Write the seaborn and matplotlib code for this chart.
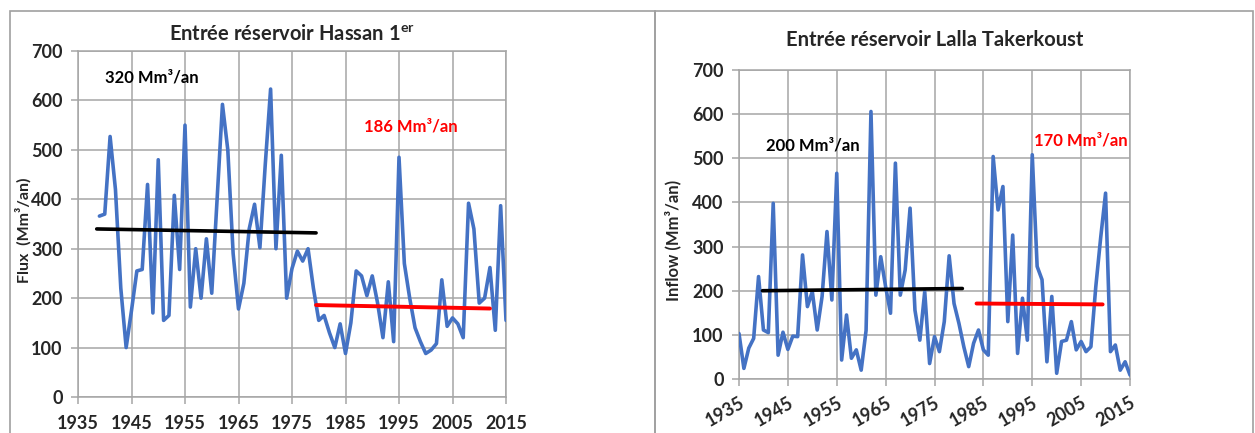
import numpy as np
import pandas as pd
import matplotlib
matplotlib.use("Agg")
import matplotlib.pyplot as plt
import seaborn as sns
from matplotlib.patches import Rectangle

# ---------------- data ----------------
hassan_years = list(range(1939, 2016))
hassan_flux = [366, 370, 527, 420, 220, 100, 175, 255, 258, 430,
               170, 480, 155, 165, 408, 258, 550, 182, 300, 200,
               320, 210, 400, 592, 500, 290, 178, 230, 340, 390,
               302, 470, 623, 300, 489, 200, 260, 295, 275, 300,
               220, 155, 165, 130, 100, 148, 88, 150, 255, 245,
               205, 245, 190, 120, 233, 112, 485, 270, 200, 140,
               112, 88, 95, 108, 237, 143, 160, 148, 120, 392,
               340, 190, 200, 262, 135, 387, 155]
hassan_trend1_x = [1938.5, 1979.5]
hassan_trend1_y = [340, 332]
hassan_trend2_x = [1979.5, 2012.0]
hassan_trend2_y = [186, 179]

lalla_years = list(range(1935, 2016))
lalla_flux = [103, 24, 70, 92, 232, 111, 105, 398, 54, 106,
              67, 97, 96, 281, 164, 198, 111, 187, 334, 179,
              466, 43, 145, 47, 66, 20, 110, 606, 190, 277,
              209, 149, 489, 190, 247, 387, 156, 88, 198, 35,
              96, 62, 130, 279, 171, 126, 73, 28, 81, 111,
              66, 54, 504, 383, 436, 130, 326, 58, 183, 88,
              508, 255, 225, 39, 187, 13, 85, 88, 130, 66,
              85, 62, 73, 209, 320, 421, 62, 77, 20, 39, 9]
lalla_trend1_x = [1939.8, 1980.7]
lalla_trend1_y = [200, 205]
lalla_trend2_x = [1983.6, 2009.4]
lalla_trend2_y = [171, 169]

x_ticks = list(range(1935, 2016, 10))
y_ticks = list(range(0, 701, 100))

# ---------------- style ----------------
sns.set_theme(style="white")
plt.rcParams['font.family'] = ['Lato', 'DejaVu Sans']
plt.rcParams['font.weight'] = 'bold'

BLUE = "#4472C4"
GRID = "#A6A6A6"

W, H = 1255, 433
fig = plt.figure(figsize=(W / 100, H / 100), dpi=100)
fig.patch.set_facecolor("white")

def px_axes(x0, x1, ytop, ybot):
    return fig.add_axes([x0 / W, 1 - ybot / H, (x1 - x0) / W, (ybot - ytop) / H])

# panel borders
fig.add_artist(Rectangle((10 / W, -0.05), (655 - 10) / W, 1.05 - 11 / H,
                         transform=fig.transFigure, fill=False,
                         edgecolor="#A0A0A0", lw=1.2))
fig.add_artist(Rectangle((655 / W, -0.05), (1253 - 655) / W, 1.05 - 11 / H,
                         transform=fig.transFigure, fill=False,
                         edgecolor="#A0A0A0", lw=1.2))

ax1 = px_axes(78, 506, 51, 397)
ax2 = px_axes(739, 1130, 70, 379)

df1 = pd.DataFrame({"year": hassan_years, "flux": hassan_flux})
df2 = pd.DataFrame({"year": lalla_years, "flux": lalla_flux})

sns.lineplot(data=df1, x="year", y="flux", ax=ax1, color=BLUE, lw=2.6, zorder=3)
sns.lineplot(data=df2, x="year", y="flux", ax=ax2, color=BLUE, lw=2.6, zorder=3)

ax1.plot(hassan_trend1_x, hassan_trend1_y, color="black", lw=2.6, zorder=4)
ax1.plot(hassan_trend2_x, hassan_trend2_y, color="#FF0000", lw=2.8, zorder=4)
ax2.plot(lalla_trend1_x, lalla_trend1_y, color="black", lw=2.6, zorder=4)
ax2.plot(lalla_trend2_x, lalla_trend2_y, color="#FF0000", lw=2.8, zorder=4)

for ax in (ax1, ax2):
    ax.set_xlim(1935, 2015)
    ax.set_ylim(0, 700)
    ax.set_xticks(x_ticks)
    ax.set_yticks(y_ticks)
    ax.grid(True, color=GRID, lw=1.1)
    ax.set_axisbelow(True)
    for s in ax.spines.values():
        s.set_color(GRID)
        s.set_linewidth(1.1)
    ax.tick_params(axis="both", which="both", length=5, width=1.1,
                   color=GRID, labelsize=13, direction="out",
                   bottom=True, left=True)
    ax.tick_params(axis="y", pad=6)
    for lab in ax.get_xticklabels() + ax.get_yticklabels():
        lab.set_fontweight("bold")
    ax.set_xlabel("")

ax1.tick_params(axis="x", pad=8)
ax2.tick_params(axis="x", pad=6)
for lab in ax2.get_xticklabels():
    lab.set_rotation(30)
    lab.set_ha("right")
    lab.set_va("top")
    lab.set_rotation_mode("anchor")

ax1.set_ylabel("Flux  (Mm³/an)", fontsize=11.5, fontweight="bold")
ax2.set_ylabel("Inflow (Mm³/an)", fontsize=12, fontweight="bold")
ax1.yaxis.set_label_coords(-0.128, 0.483)
ax2.yaxis.set_label_coords(-0.168, 0.45)
ax1.yaxis.label.set_va("center")
ax2.yaxis.label.set_va("center")

ax1.set_title("Entrée réservoir Hassan 1$^{\\mathregular{er}}$", fontsize=14.5,
              fontweight="bold", pad=8)
ax2.set_title("Entrée réservoir Lalla Takerkoust", fontsize=14.5,
              fontweight="bold", pad=17)

ax1.text(1940, 647, "320 Mm³/an", fontsize=12, fontweight="bold",
         color="black", va="center", ha="left")
ax1.text(1988.4, 548, "186 Mm³/an", fontsize=12, fontweight="bold",
         color="#FF0000", va="center", ha="left")
ax2.text(1940.6, 530, "200 Mm³/an", fontsize=12, fontweight="bold",
         color="black", va="center", ha="left")
ax2.text(1995.4, 541, "170 Mm³/an", fontsize=12, fontweight="bold",
         color="#FF0000", va="center", ha="left")

fig.savefig("out.png", dpi=100, facecolor="white")
